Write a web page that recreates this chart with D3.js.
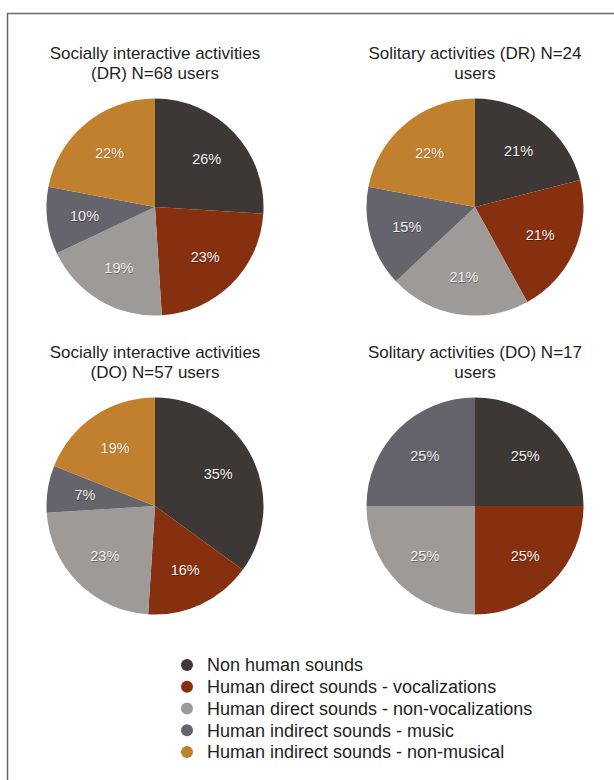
<!DOCTYPE html>
<html>
<head>
<meta charset="utf-8">
<script src="https://cdn.jsdelivr.net/npm/d3@7"></script>
<style>
  html, body { margin: 0; padding: 0; background: #ffffff; }
  svg { display: block; font-family: "Liberation Sans", Arial, Helvetica, sans-serif; }
</style>
</head>
<body>
<svg id="chart" width="614" height="780"></svg>
<script>
// Sound categories, in slice order (clockwise from 12 o'clock)
const categories = [
  "Non human sounds",
  "Human direct sounds - vocalizations",
  "Human direct sounds - non-vocalizations",
  "Human indirect sounds - music",
  "Human indirect sounds - non-musical"
];
const categoryColors = ["#3d3836", "#87300f", "#9d9a98", "#65646c", "#c1802d"];

// Panel titles (two lines each)
const titles = [
  ["Socially interactive activities", "(DR) N=68 users"],
  ["Solitary activities (DR) N=24", "users"],
  ["Socially interactive activities", "(DO) N=57 users"],
  ["Solitary activities (DO) N=17", "users"]
];

// Percentages per panel, aligned with categories
const socialDR   = [26, 23, 19, 10, 22];
const solitaryDR = [21, 21, 21, 15, 22];
const socialDO   = [35, 16, 23, 7, 19];
const solitaryDO = [25, 25, 25, 25, 0];

const panels = [socialDR, solitaryDR, socialDO, solitaryDO];

const svg = d3.select("#chart");

// Outer frame (open to the right and bottom)
svg.append("path")
  .attr("d", "M7.5,780 L7.5,13.5 L614,13.5")
  .attr("fill", "none")
  .attr("stroke", "#6a6a6a")
  .attr("stroke-width", 1.5);

const color = d3.scaleOrdinal().domain(categories).range(categoryColors);

const colX = d3.scalePoint().domain([0, 1]).range([155, 475]);
const rowY = d3.scalePoint().domain([0, 1]).range([207, 506]);
const radius = 108.5;
const labelRadius = 71;

const pie = d3.pie().sort(null).value(d => d.value);
const arc = d3.arc().innerRadius(0).outerRadius(radius);
const labelArc = d3.arc().innerRadius(labelRadius).outerRadius(labelRadius);

panels.forEach((vals, i) => {
  const cx = colX(i % 2);
  const cy = rowY(Math.floor(i / 2));
  const data = categories.map((c, k) => ({ cat: c, value: vals[k] }));

  // Title
  const t = svg.append("text")
    .attr("text-anchor", "middle")
    .attr("font-size", 17)
    .attr("fill", "#1e1e1e");
  titles[i].forEach((line, j) => {
    t.append("tspan")
      .attr("x", cx)
      .attr("y", cy - 148 + j * 19.5)
      .text(line);
  });

  const g = svg.append("g").attr("transform", `translate(${cx},${cy})`);
  const arcs = pie(data).filter(d => d.data.value > 0);

  g.selectAll("path")
    .data(arcs)
    .join("path")
    .attr("d", arc)
    .attr("fill", d => color(d.data.cat));

  // Percentage labels with a faint dark shadow
  const lab = g.selectAll("g.lab")
    .data(arcs)
    .join("g")
    .attr("class", "lab")
    .attr("transform", d => `translate(${labelArc.centroid(d)})`);
  lab.append("text")
    .attr("text-anchor", "middle")
    .attr("dy", "0.36em")
    .attr("x", 0.6).attr("y", 0.8)
    .attr("font-size", 14.5)
    .attr("fill", "rgba(0,0,0,0.35)")
    .text(d => d.data.value + "%");
  lab.append("text")
    .attr("text-anchor", "middle")
    .attr("dy", "0.36em")
    .attr("font-size", 14.5)
    .attr("fill", "#f2f0ee")
    .text(d => d.data.value + "%");
});

// Legend
const legendY = d3.scaleLinear().domain([0, categories.length - 1]).range([665, 752]);
const legend = svg.append("g");
const items = legend.selectAll("g")
  .data(categories)
  .join("g")
  .attr("transform", (d, k) => `translate(187,${legendY(k)})`);
items.append("circle")
  .attr("r", 6)
  .attr("fill", d => color(d));
items.append("text")
  .attr("x", 20)
  .attr("dy", "0.36em")
  .attr("font-size", 18)
  .attr("fill", "#1e1e1e")
  .text(d => d);
</script>
</body>
</html>
